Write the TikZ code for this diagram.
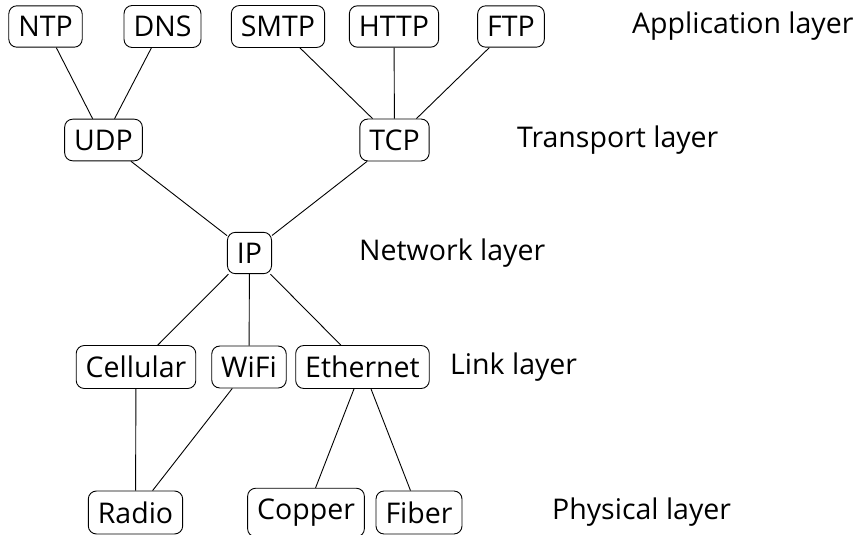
\documentclass[tikz,border=0pt]{standalone}
\usepackage{fontspec}
\setmainfont{Open Sans}
\begin{document}
\begin{tikzpicture}[x=1pt,y=-1pt,
  proto/.style={draw, line width=0.9pt, rounded corners=8pt, inner xsep=9.5pt, inner ysep=10.5pt, font=\fontsize{28.5}{34}\selectfont},
  layer/.style={anchor=west, inner sep=0pt, font=\fontsize{28.5}{34}\selectfont},
  link/.style={line width=0.9pt}]
\useasboundingbox (0,0) rectangle (860,535);
% application
\node[proto] (ntp)  at (45.5,26.5) {NTP};
\node[proto] (dns)  at (162.5,26.5) {DNS};
\node[proto] (smtp) at (278,26.5) {SMTP};
\node[proto] (http) at (394,26.5) {HTTP};
\node[proto] (ftp)  at (511,26.5) {FTP};
% transport
\node[proto] (udp) at (103.5,140) {UDP};
\node[proto] (tcp) at (394.5,140) {TCP};
% network
\node[proto] (ip) at (249.5,253) {IP};
% link
\node[proto] (cell) at (136,367) {Cellular};
\node[proto] (wifi) at (249,367) {WiFi};
\node[proto] (eth)  at (362.5,367) {Ethernet};
% physical
\node[proto] (radio)  at (135.5,512.5) {Radio};
\node[proto] (copper) at (306,512.5) {Copper};
\node[proto] (fiber)  at (419,512.5) {Fiber};
% layer labels
\node[layer] (lapp) at (632,26.5) {Application layer};
\node[layer] (ltra) at (517,140) {Transport layer};
\node[layer] (lnet) at (359,253) {Network layer};
\node[layer] (llnk) at (450,367) {Link layer};
\node[layer] (lphy) at (552,512.5) {Physical layer};
% connectors
\draw[link] (ntp) -- (udp);
\draw[link] (dns) -- (udp);
\draw[link] (smtp) -- (tcp);
\draw[link] (http) -- (tcp);
\draw[link] (ftp) -- (tcp);
\draw[link] (udp) -- (ip);
\draw[link] (tcp) -- (ip);
\draw[link] (ip) -- (cell);
\draw[link] (ip) -- (wifi);
\draw[link] (ip) -- (eth);
\draw[link] (cell) -- (radio);
\draw[link] (wifi) -- (radio);
\draw[link] (eth) -- (copper);
\draw[link] (eth) -- (fiber);
\end{tikzpicture}
\end{document}
